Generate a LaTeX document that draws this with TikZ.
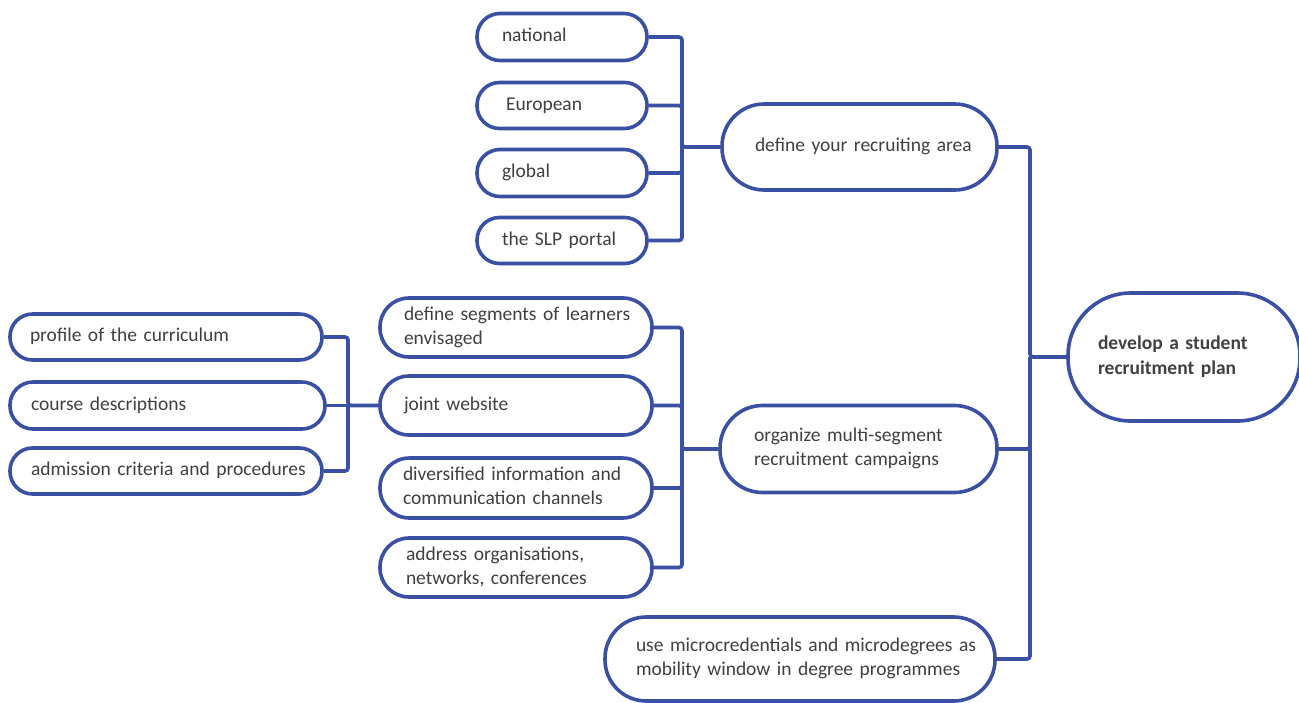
\documentclass[tikz,border=0pt]{standalone}
\usepackage{fontspec}
\setmainfont{Carlito}
% left-aligned block of lines of natural width
\newcommand\txtlines[1]{\begin{tabular}{@{}l@{}}#1\end{tabular}}
\begin{document}
\definecolor{lineblue}{RGB}{57,80,163}
\definecolor{textgray}{RGB}{64,64,64}
\tikzset{
  pill/.style n args={3}{% width, height, left padding
    draw=lineblue, line width=3.6pt, fill=white, rectangle,
    rounded corners=#2*0.49pt,
    minimum width=#1pt, minimum height=#2pt,
    inner xsep=#3pt, inner ysep=0pt, text width=#1pt-2*#3pt,
    align=left, text=textgray,
    font=\fontsize{19.5}{24}\selectfont},
  conn/.style={draw=lineblue, line width=3.6pt, rounded corners=3pt}
}
\begin{tikzpicture}[x=1pt,y=-1pt]
\useasboundingbox (0,0) rectangle (1299,702);

% root
\node[pill={232}{128}{30}, font=\fontsize{19.5}{25}\selectfont\bfseries] (root) at (1184,357)
  {\txtlines{develop a student\\recruitment plan}};

% second level
\node[pill={275}{86}{33}] (area) at (859.5,147) {\txtlines{define your recruiting area}};
\node[pill={277}{87}{34}] (camp) at (858.5,449) {\txtlines{organize multi-segment\\recruitment campaigns}};
\node[pill={390}{84}{31}] (micro) at (800,659)
  {\txtlines{use microcredentials and microdegrees as\\mobility window in degree programmes}};

% recruiting area
\node[pill={170}{47}{25}] (nat) at (562,37) {\txtlines{national}};
\node[pill={170}{46}{29}] (eur) at (562,105.5) {\txtlines{European}};
\node[pill={170}{47}{25}] (glob) at (562,173) {\txtlines{global}};
\node[pill={170}{46}{25}] (slp) at (562,240.5) {\txtlines{the SLP portal}};

% campaign channels
\node[pill={272}{59}{24}] (seg) at (516,327.5) {\txtlines{define segments of learners\\envisaged}};
\node[pill={272}{59}{24}] (web) at (516,405.5) {\txtlines{joint website}};
\node[pill={272}{60}{23}] (chan) at (516,488) {\txtlines{diversified information and\\communication channels}};
\node[pill={272}{59}{26}] (org) at (516,567.5) {\txtlines{address organisations,\\networks, conferences}};

% website contents
\node[pill={312}{46}{20}] (prof) at (166,337) {\txtlines{profile of the curriculum}};
\node[pill={315}{47}{21}] (course) at (167.5,405.5) {\txtlines{course descriptions}};
\node[pill={312}{46}{21}] (adm) at (166,471) {\txtlines{admission criteria and procedures}};

% junction points
\coordinate (jmain) at (1030,357);
\coordinate (jarea) at (682,147);
\coordinate (jcamp) at (682,449);
\coordinate (jweb) at (348,405.5);

% connectors
\draw[conn] (area.east) -| (jmain) -- (root.west);
\draw[conn] (camp.east) -| (jmain);
\draw[conn] (micro.east) -| (jmain);

\draw[conn] (nat.east) -| (jarea) -- (area.west);
\draw[conn] (eur.east) -| (jarea);
\draw[conn] (glob.east) -| (jarea);
\draw[conn] (slp.east) -| (jarea);

\draw[conn] (seg.east) -| (jcamp) -- (camp.west);
\draw[conn] (web.east) -| (jcamp);
\draw[conn] (chan.east) -| (jcamp);
\draw[conn] (org.east) -| (jcamp);

\draw[conn] (prof.east) -| (jweb) -- (web.west);
\draw[conn] (course.east) -- (jweb);
\draw[conn] (adm.east) -| (jweb);
\end{tikzpicture}
\end{document}
